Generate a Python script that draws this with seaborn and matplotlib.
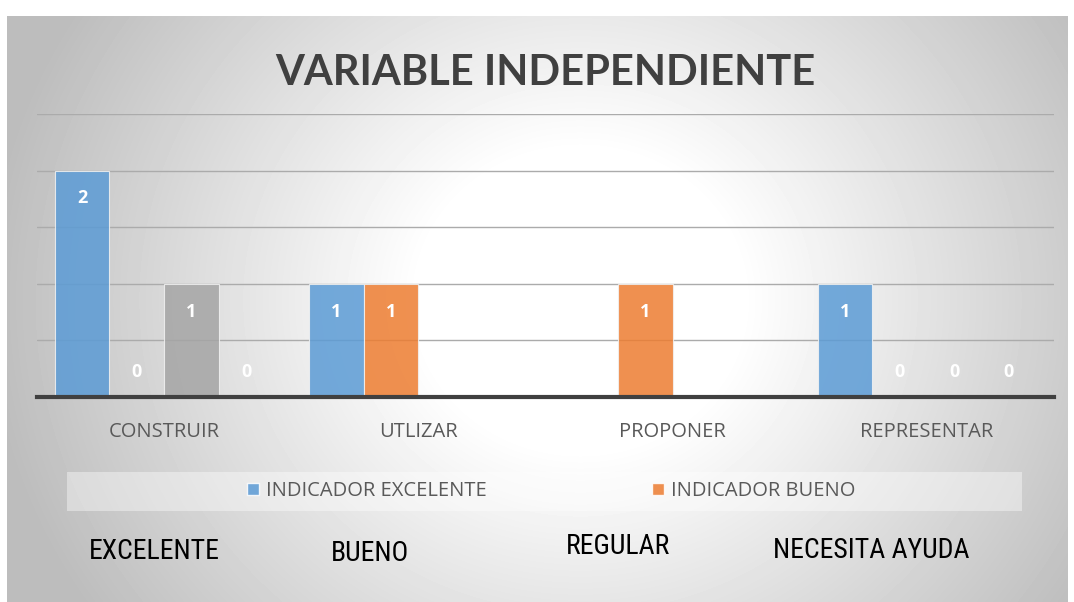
import numpy as np
import pandas as pd
import matplotlib
matplotlib.use("Agg")
import matplotlib.pyplot as plt
from matplotlib.patches import Rectangle, Patch
import seaborn as sns

# datos
categories = ["CONSTRUIR", "UTLIZAR", "PROPONER", "REPRESENTAR"]
series = ["INDICADOR EXCELENTE", "INDICADOR BUENO",
          "INDICADOR REGULAR", "INDICADOR NECESITA AYUDA"]
excelente = [2, 1, None, 1]
bueno = [0, 1, 1, 0]
regular = [1, None, None, 0]
necesita = [0, None, None, 0]
legend_series = ["INDICADOR EXCELENTE", "INDICADOR BUENO"]
bottom_labels = ["EXCELENTE", "BUENO", "REGULAR", "NECESITA AYUDA"]
colors = ["#5B9BD5", "#ED7D31", "#A5A5A5", "#FFC000"]

rows = []
for s, vals in zip(series, [excelente, bueno, regular, necesita]):
    for c, v in zip(categories, vals):
        if v is not None:
            rows.append({"cat": c, "serie": s, "valor": v})
df = pd.DataFrame(rows)

W, H = 1074, 602
sns.set_style("white")
fig = plt.figure(figsize=(W / 100, H / 100), dpi=100)
fig.patch.set_facecolor("white")

# fondo con degradado radial
bg = fig.add_axes([7 / W, 0, (1068 - 7) / W, (H - 16) / H])
yy, xx = np.mgrid[16:H, 7:1068]
r = np.sqrt(((xx - 580) / 540) ** 2 + ((yy - 300) / 500) ** 2)
shade = 1 - 0.26 * np.clip((r - 0.3) / 0.8, 0, 1)
bg.imshow(shade, cmap="gray", vmin=0, vmax=1, aspect="auto")
bg.axis("off")
bg.set_zorder(-2)

# fondo de la leyenda
fig.patches.append(Rectangle((67 / W, 1 - 511 / H), (1022 - 67) / W, 39 / H,
                             transform=fig.transFigure, facecolor="white",
                             alpha=0.4, edgecolor="none", zorder=-1))

ax = fig.add_axes([37 / W, 1 - 397 / H, (1054 - 37) / W, (397 - 114) / H])
ax.patch.set_alpha(0)
sns.barplot(data=df, x="cat", y="valor", hue="serie", order=categories,
            hue_order=series, palette=colors, saturation=1, width=0.86,
            alpha=0.85, edgecolor="#F2F2F2", linewidth=0.8, legend=False, ax=ax)

ax.set_xlim(-0.5, 3.5)
ax.set_ylim(0, 2.5)
ax.set_yticks(np.arange(0, 2.6, 0.5))
ax.set_yticklabels([])
ax.grid(axis="y", color="#ABABAB", lw=1)
ax.set_axisbelow(True)
for side in ["left", "right", "top"]:
    ax.spines[side].set_visible(False)
ax.spines["bottom"].set_color("#404040")
ax.spines["bottom"].set_linewidth(3)
ax.set_xlabel("")
ax.set_ylabel("")
ax.set_xticks(range(len(categories)))
ax.set_xticklabels(categories, fontsize=14.5, color="#595959", family="Open Sans")
ax.tick_params(length=0, axis="x", pad=18)
ax.tick_params(length=0, axis="y")

# etiquetas de datos
for p in ax.patches:
    h = p.get_height()
    if np.isnan(h):
        continue
    x = p.get_x() + p.get_width() / 2
    off = -20 if h > 0 else 18
    ax.annotate(f"{int(h)}", (x, h), xytext=(0, off), textcoords="offset points",
                ha="center", va="center", color="white", fontweight="bold",
                fontsize=13, family="Open Sans")

fig.text(545 / W, 1 - 85 / H, "VARIABLE INDEPENDIENTE", ha="center",
         va="baseline", fontsize=30, fontweight="bold", color="#404040",
         family="Lato")

handles = [Patch(facecolor=colors[i], alpha=0.85) for i in range(2)]
fig.legend(handles, legend_series, loc="center", bbox_to_anchor=(551 / W, 1 - 491 / H),
           ncol=2, frameon=False, handlelength=0.6, handleheight=0.6,
           handletextpad=0.35, columnspacing=8.2,
           prop={"family": "Open Sans", "size": 14.5}, labelcolor="#595959")

bottom_x = [89, 331, 566, 773]
bottom_y = [559, 561, 554, 558]
for lab, bx, by in zip(bottom_labels, bottom_x, bottom_y):
    fig.text(bx / W, 1 - by / H, lab, ha="left", va="baseline", fontsize=20,
             color="black", family=["Roboto Condensed", "Liberation Sans Narrow", "Roboto"])

fig.savefig("out.png", dpi=100)
